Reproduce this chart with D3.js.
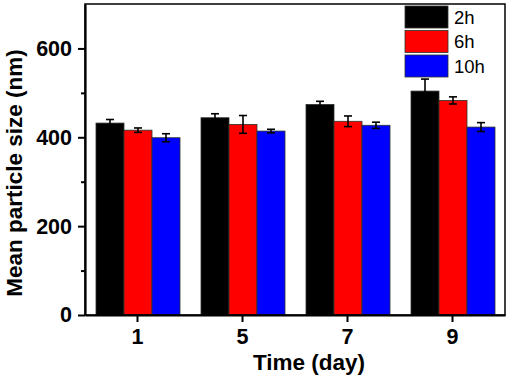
<!DOCTYPE html>
<html>
<head>
<meta charset="utf-8">
<script src="https://cdn.jsdelivr.net/npm/d3@7"></script>
<style>
  body { margin: 0; background: #fff; }
  text { font-family: "Liberation Sans", Arial, sans-serif; }
</style>
</head>
<body>
<div id="chart"></div>
<script>
// Data
const days = ["1", "5", "7", "9"];
const series = ["2h", "6h", "10h"];
const colors = ["#000000", "#ff0000", "#0000ff"];
const mean2h = [432, 444, 474, 504];
const mean6h = [416, 429, 436, 483];
const mean10h = [399, 414, 427, 423];
const err2h = [8, 9, 7, 27];
const err6h = [5, 20, 12, 8];
const err10h = [9, 4, 7, 10];
const yTicks = [0, 200, 400, 600];
const yMinorTicks = [100, 300, 500];

const width = 510, height = 379;
const margin = {top: 4, right: 5, bottom: 64, left: 85};

const svg = d3.select("#chart")
  .append("svg")
  .attr("width", width)
  .attr("height", height);

const means = [mean2h, mean6h, mean10h];
const errs = [err2h, err6h, err10h];
const rows = [];
days.forEach((day, i) => {
  series.forEach((s, j) => {
    rows.push({day, s, j, value: means[j][i], err: errs[j][i]});
  });
});

// Scales
const x = d3.scaleBand()
  .domain(days)
  .range([margin.left, width - margin.right])
  .padding(0);

const xSub = d3.scaleBand()
  .domain(series)
  .range([11, x.bandwidth() - 10]);

const y = d3.scaleLinear()
  .domain([0, 700])
  .range([height - margin.bottom, margin.top]);

// Bars
svg.append("g")
  .selectAll("rect")
  .data(rows)
  .join("rect")
  .attr("x", d => x(d.day) + xSub(d.s))
  .attr("y", d => y(d.value))
  .attr("width", xSub.bandwidth())
  .attr("height", d => y(0) - y(d.value))
  .attr("fill", d => colors[d.j])
  .attr("stroke", "#2b332b")
  .attr("stroke-width", 0.8);

// Error bars
const eb = svg.append("g")
  .attr("stroke", "#000")
  .attr("stroke-width", 1.6)
  .selectAll("g")
  .data(rows)
  .join("g")
  .attr("transform", d => `translate(${x(d.day) + xSub(d.s) + xSub.bandwidth() / 2},0)`);

eb.append("line")
  .attr("y1", d => y(d.value - d.err))
  .attr("y2", d => y(d.value + d.err));
eb.append("line")
  .attr("x1", -4).attr("x2", 4)
  .attr("y1", d => y(d.value + d.err))
  .attr("y2", d => y(d.value + d.err));
eb.append("line")
  .attr("x1", -4).attr("x2", 4)
  .attr("y1", d => y(d.value - d.err))
  .attr("y2", d => y(d.value - d.err));

// Frame
svg.append("rect")
  .attr("x", margin.left)
  .attr("y", margin.top)
  .attr("width", width - margin.right - margin.left)
  .attr("height", y(0) - margin.top)
  .attr("fill", "none")
  .attr("stroke", "#000")
  .attr("stroke-width", 1.5);

// Y axis
const yAxis = svg.append("g")
  .attr("transform", `translate(${margin.left},0)`)
  .call(d3.axisLeft(y).tickValues(yTicks).tickSize(7).tickPadding(6).tickSizeOuter(0));
yAxis.select(".domain").attr("stroke-width", 2.2);
yAxis.selectAll(".tick line").attr("stroke-width", 2);
yAxis.selectAll("text")
  .attr("font-size", 21.5)
  .attr("font-weight", "bold")
  .attr("font-family", "Liberation Sans, Arial, sans-serif")
  .attr("fill", "#000");

svg.append("g")
  .attr("transform", `translate(${margin.left},0)`)
  .call(d3.axisLeft(y).tickValues(yMinorTicks).tickSize(4).tickFormat(""))
  .call(g => g.select(".domain").remove())
  .selectAll(".tick line").attr("stroke-width", 2);

// X axis
const xAxis = svg.append("g")
  .attr("transform", `translate(0,${y(0)})`)
  .call(d3.axisBottom(x).tickSize(7).tickPadding(7).tickSizeOuter(0));
xAxis.select(".domain").attr("stroke-width", 2.2);
xAxis.selectAll(".tick line").attr("stroke-width", 2);
xAxis.selectAll("text")
  .attr("font-size", 21.5)
  .attr("font-weight", "bold")
  .attr("font-family", "Liberation Sans, Arial, sans-serif")
  .attr("fill", "#000");

// Axis titles
svg.append("text")
  .attr("x", 309)
  .attr("y", 370)
  .attr("text-anchor", "middle")
  .attr("font-size", 22.5)
  .attr("font-weight", "bold")
  .text("Time (day)");

svg.append("text")
  .attr("transform", "translate(22,173) rotate(-90)")
  .attr("text-anchor", "middle")
  .attr("font-size", 22.5)
  .attr("font-weight", "bold")
  .text("Mean particle size (nm)");

// Legend
const legend = svg.append("g")
  .attr("transform", "translate(405,6)");

const legendRow = legend.selectAll("g")
  .data(series)
  .join("g")
  .attr("transform", (_, i) => `translate(0,${i * 24.5})`);

legendRow.append("rect")
  .attr("width", 43)
  .attr("height", 22)
  .attr("fill", (_, i) => colors[i])
  .attr("stroke", "#2b332b")
  .attr("stroke-width", 0.8);

legendRow.append("text")
  .attr("x", 49)
  .attr("y", 17.5)
  .attr("font-size", 18.5)
  .text(d => d);
</script>
</body>
</html>
